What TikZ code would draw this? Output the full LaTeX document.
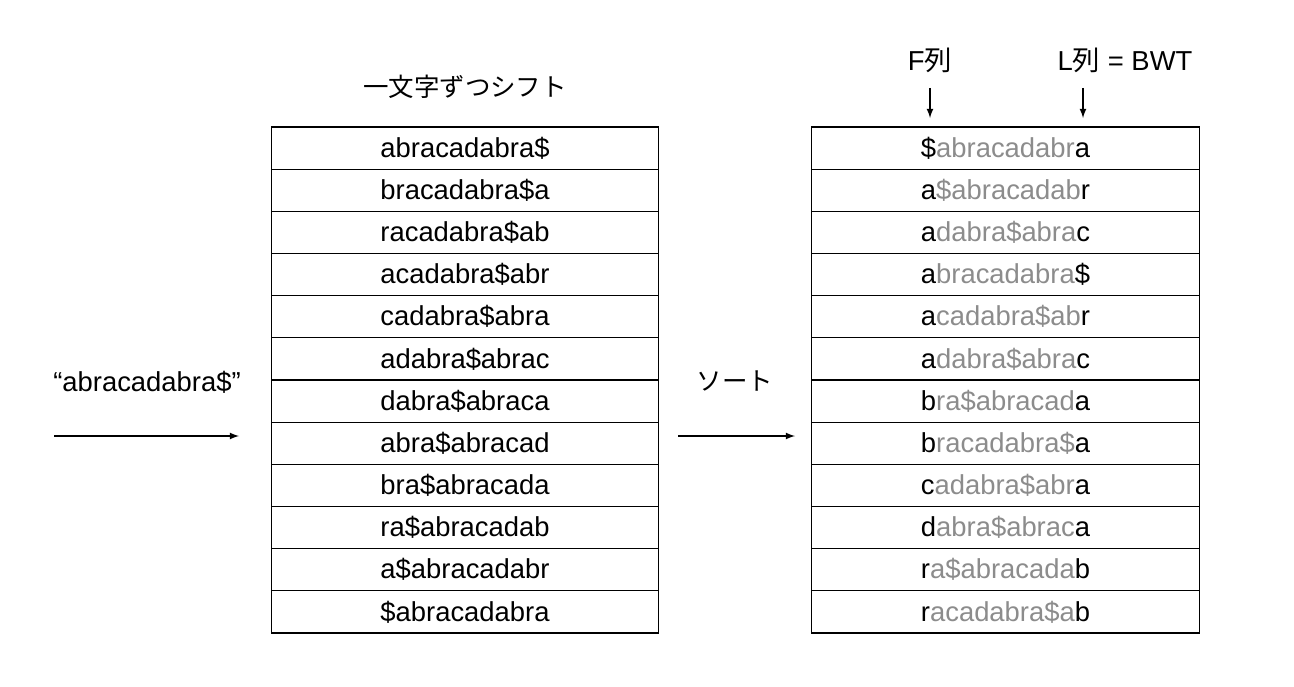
\documentclass[tikz,border=0pt]{standalone}
\usepackage{xcolor}
\usepackage{fontspec}
\setmainfont{Liberation Sans}
\newfontfamily\jpfont{Noto Sans CJK JP}
\usepackage{tikz}
\definecolor{faded}{RGB}{140,140,140}
\newcommand{\rotrow}[3]{#1\textcolor{faded}{#2}#3}

\begin{document}
\begin{tikzpicture}[x=0.02cm,y=-0.02cm,
  txt/.style={font=\fontsize{15.6}{18}\selectfont},
  jptxt/.style={font=\fontsize{14.5}{17}\jpfont},
  cell/.style={txt,draw,line width=0.6pt,minimum width=7.76cm,minimum height=0.84333cm,inner sep=0pt},
  pointer/.style={line width=0.8pt,-latex}]
\useasboundingbox (0,0) rectangle (1294,686);

% left table: every rotation
\node[jptxt] (shift) at (465,87) {一文字ずつシフト};
\node[cell] (l1) at (465,148.083) {abracadabra\$};
\node[cell] (l2) at (465,190.25) {bracadabra\$a};
\node[cell] (l3) at (465,232.417) {racadabra\$ab};
\node[cell] (l4) at (465,274.583) {acadabra\$abr};
\node[cell] (l5) at (465,316.75) {cadabra\$abra};
\node[cell] (l6) at (465,358.917) {adabra\$abrac};
\node[cell] (l7) at (465,401.083) {dabra\$abraca};
\node[cell] (l8) at (465,443.25) {abra\$abracad};
\node[cell] (l9) at (465,485.417) {bra\$abracada};
\node[cell] (l10) at (465,527.583) {ra\$abracadab};
\node[cell] (l11) at (465,569.75) {a\$abracadabr};
\node[cell] (l12) at (465,611.917) {\$abracadabra};

% input string
\node[txt] (input) at (147,382) {“abracadabra\$”};
\coordinate (in0) at (54,436);
\coordinate (in1) at (239,436);
\draw[pointer] (in0) -- (in1);

% sort
\node[jptxt] (sort) at (735,381) {ソート};
\coordinate (so0) at (678,436);
\coordinate (so1) at (795,436);
\draw[pointer] (so0) -- (so1);

% right table: sorted rotations
\node[cell] (r1) at (1005.5,148.083) {\rotrow{\$}{abracadabr}{a}};
\node[cell] (r2) at (1005.5,190.25) {\rotrow{a}{\$abracadab}{r}};
\node[cell] (r3) at (1005.5,232.417) {\rotrow{a}{dabra\$abra}{c}};
\node[cell] (r4) at (1005.5,274.583) {\rotrow{a}{bracadabra}{\$}};
\node[cell] (r5) at (1005.5,316.75) {\rotrow{a}{cadabra\$ab}{r}};
\node[cell] (r6) at (1005.5,358.917) {\rotrow{a}{dabra\$abra}{c}};
\node[cell] (r7) at (1005.5,401.083) {\rotrow{b}{ra\$abracad}{a}};
\node[cell] (r8) at (1005.5,443.25) {\rotrow{b}{racadabra\$}{a}};
\node[cell] (r9) at (1005.5,485.417) {\rotrow{c}{adabra\$abr}{a}};
\node[cell] (r10) at (1005.5,527.583) {\rotrow{d}{abra\$abrac}{a}};
\node[cell] (r11) at (1005.5,569.75) {\rotrow{r}{a\$abracada}{b}};
\node[cell] (r12) at (1005.5,611.917) {\rotrow{r}{acadabra\$a}{b}};

% column labels
\node[txt] (fcol) at (930,60) {F{\jpfont 列}};
\node[txt] (lcol) at (1125,60) {L{\jpfont 列} = BWT};
\coordinate (f0) at (930,88);
\coordinate (f1) at (930,118);
\coordinate (b0) at (1083,88);
\coordinate (b1) at (1083,118);
\draw[pointer] (f0) -- (f1);
\draw[pointer] (b0) -- (b1);
\end{tikzpicture}
\end{document}
